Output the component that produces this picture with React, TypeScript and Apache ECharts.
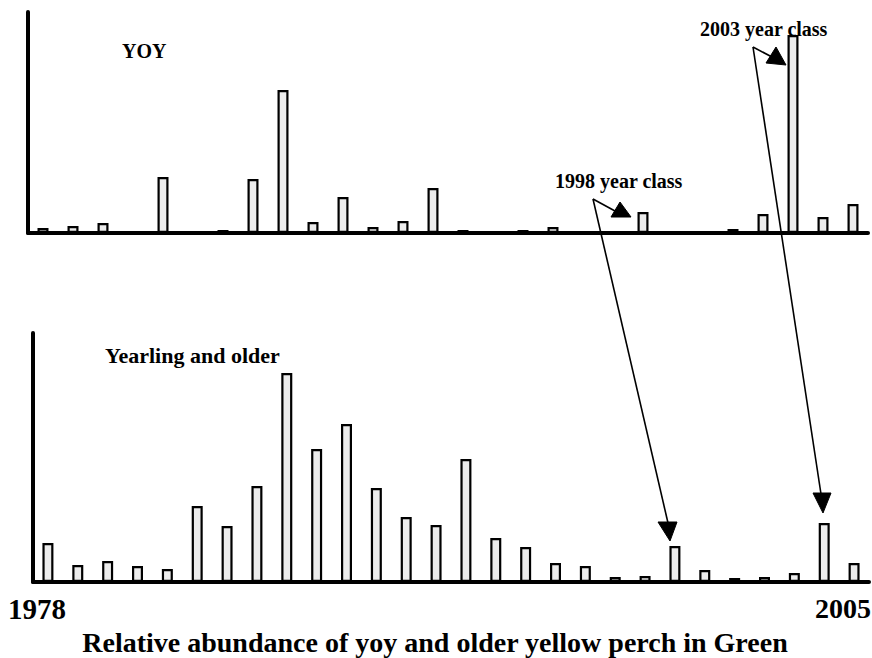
import React, { useEffect, useRef } from "react";
import * as echarts from "echarts";

const years: string[] = [
  "1978", "1979", "1980", "1981", "1982", "1983", "1984", "1985", "1986", "1987",
  "1988", "1989", "1990", "1991", "1992", "1993", "1994", "1995", "1996", "1997",
  "1998", "1999", "2000", "2001", "2002", "2003", "2004", "2005",
];

// Relative abundance (arbitrary index units)
const yoyValues: number[] = [
  5, 7, 10, 0, 56, 0, 3, 54, 143, 11,
  36, 6, 12, 45, 3, 0, 3, 6, 0, 0,
  21, 0, 2, 4, 19, 198, 16, 29,
];

const olderValues: number[] = [
  39, 17, 21, 16, 13, 76, 56, 96, 209, 133,
  158, 94, 65, 57, 123, 44, 35, 19, 16, 5,
  6, 36, 12, 4, 5, 9, 59, 19,
];

const yoyMax = 221;
const olderMax = 249;

const panelLabels = { yoy: "YOY", older: "Yearling and older" };
const yearClassLabels = { y1998: "1998 year class", y2003: "2003 year class" };
const startLabel = "1978";
const endLabel = "2005";
const titleText = "Relative abundance of yoy and older yellow perch in Green";

const SERIF = '"Liberation Serif", "Times New Roman", serif';

function textEl(text: string, x: number, y: number, size: number, align: string = "left") {
  return {
    type: "text",
    x,
    y,
    style: {
      text,
      font: `bold ${size}px ${SERIF}`,
      fill: "#000",
      textAlign: align,
      textVerticalAlign: "middle",
    },
  };
}

function lineEl(x1: number, y1: number, x2: number, y2: number) {
  return {
    type: "line",
    shape: { x1, y1, x2, y2 },
    style: { stroke: "#000", lineWidth: 1.6 },
  };
}

function triEl(points: number[][]) {
  return {
    type: "polygon",
    shape: { points },
    style: { fill: "#000", stroke: "#000", lineWidth: 1 },
  };
}

export default function App() {
  const ref = useRef<HTMLDivElement>(null);

  useEffect(() => {
    if (!ref.current) return;
    const chart = echarts.init(ref.current, undefined, { renderer: "svg" });

    const axisLine = { show: true, lineStyle: { color: "#000", width: 4 } };
    const barStyle = { color: "#ececec", borderColor: "#000", borderWidth: 2.2 };

    chart.setOption({
      animation: false,
      backgroundColor: "#fff",
      grid: [
        { left: 28, top: 12, width: 840, height: 221 },
        { left: 33, top: 333, width: 836, height: 249 },
      ],
      xAxis: [
        {
          type: "category",
          gridIndex: 0,
          data: years,
          axisLine,
          axisTick: { show: false },
          axisLabel: { show: false },
        },
        {
          type: "category",
          gridIndex: 1,
          data: years,
          axisLine,
          axisTick: { show: false },
          axisLabel: { show: false },
        },
      ],
      yAxis: [
        {
          type: "value",
          gridIndex: 0,
          min: 0,
          max: yoyMax,
          axisLine,
          axisTick: { show: false },
          axisLabel: { show: false },
          splitLine: { show: false },
        },
        {
          type: "value",
          gridIndex: 1,
          min: 0,
          max: olderMax,
          axisLine,
          axisTick: { show: false },
          axisLabel: { show: false },
          splitLine: { show: false },
        },
      ],
      series: [
        {
          type: "bar",
          name: "YOY",
          xAxisIndex: 0,
          yAxisIndex: 0,
          data: yoyValues,
          barWidth: 11,
          itemStyle: barStyle,
          z: 1,
        },
        {
          type: "bar",
          name: "Yearling and older",
          xAxisIndex: 1,
          yAxisIndex: 1,
          data: olderValues,
          barWidth: 11,
          itemStyle: barStyle,
          z: 1,
        },
      ],
      graphic: [
        textEl(panelLabels.yoy, 122, 51, 20),
        textEl(panelLabels.older, 105, 355, 22),
        textEl(yearClassLabels.y1998, 555, 181, 20),
        textEl(yearClassLabels.y2003, 700, 29, 20),
        textEl(startLabel, 8, 609, 29),
        textEl(endLabel, 871, 608, 28, "right"),
        textEl(titleText, 435, 642, 28, "center"),
        // 1998 year class arrows
        lineEl(593, 199, 615, 211),
        triEl([[611, 217], [620, 202], [631, 217]]),
        lineEl(593, 199, 668, 523),
        triEl([[658, 522], [677, 522], [670, 541]]),
        // 2003 year class arrows
        lineEl(753, 47, 772, 57),
        triEl([[766, 63], [776, 47], [786, 65]]),
        lineEl(753, 47, 821, 494),
        triEl([[813, 493], [831, 493], [823, 513]]),
      ],
    });

    return () => chart.dispose();
  }, []);

  return (
    <div
      ref={ref}
      style={{ position: "fixed", left: 0, top: 0, width: 872, height: 658, background: "#fff" }}
    />
  );
}
